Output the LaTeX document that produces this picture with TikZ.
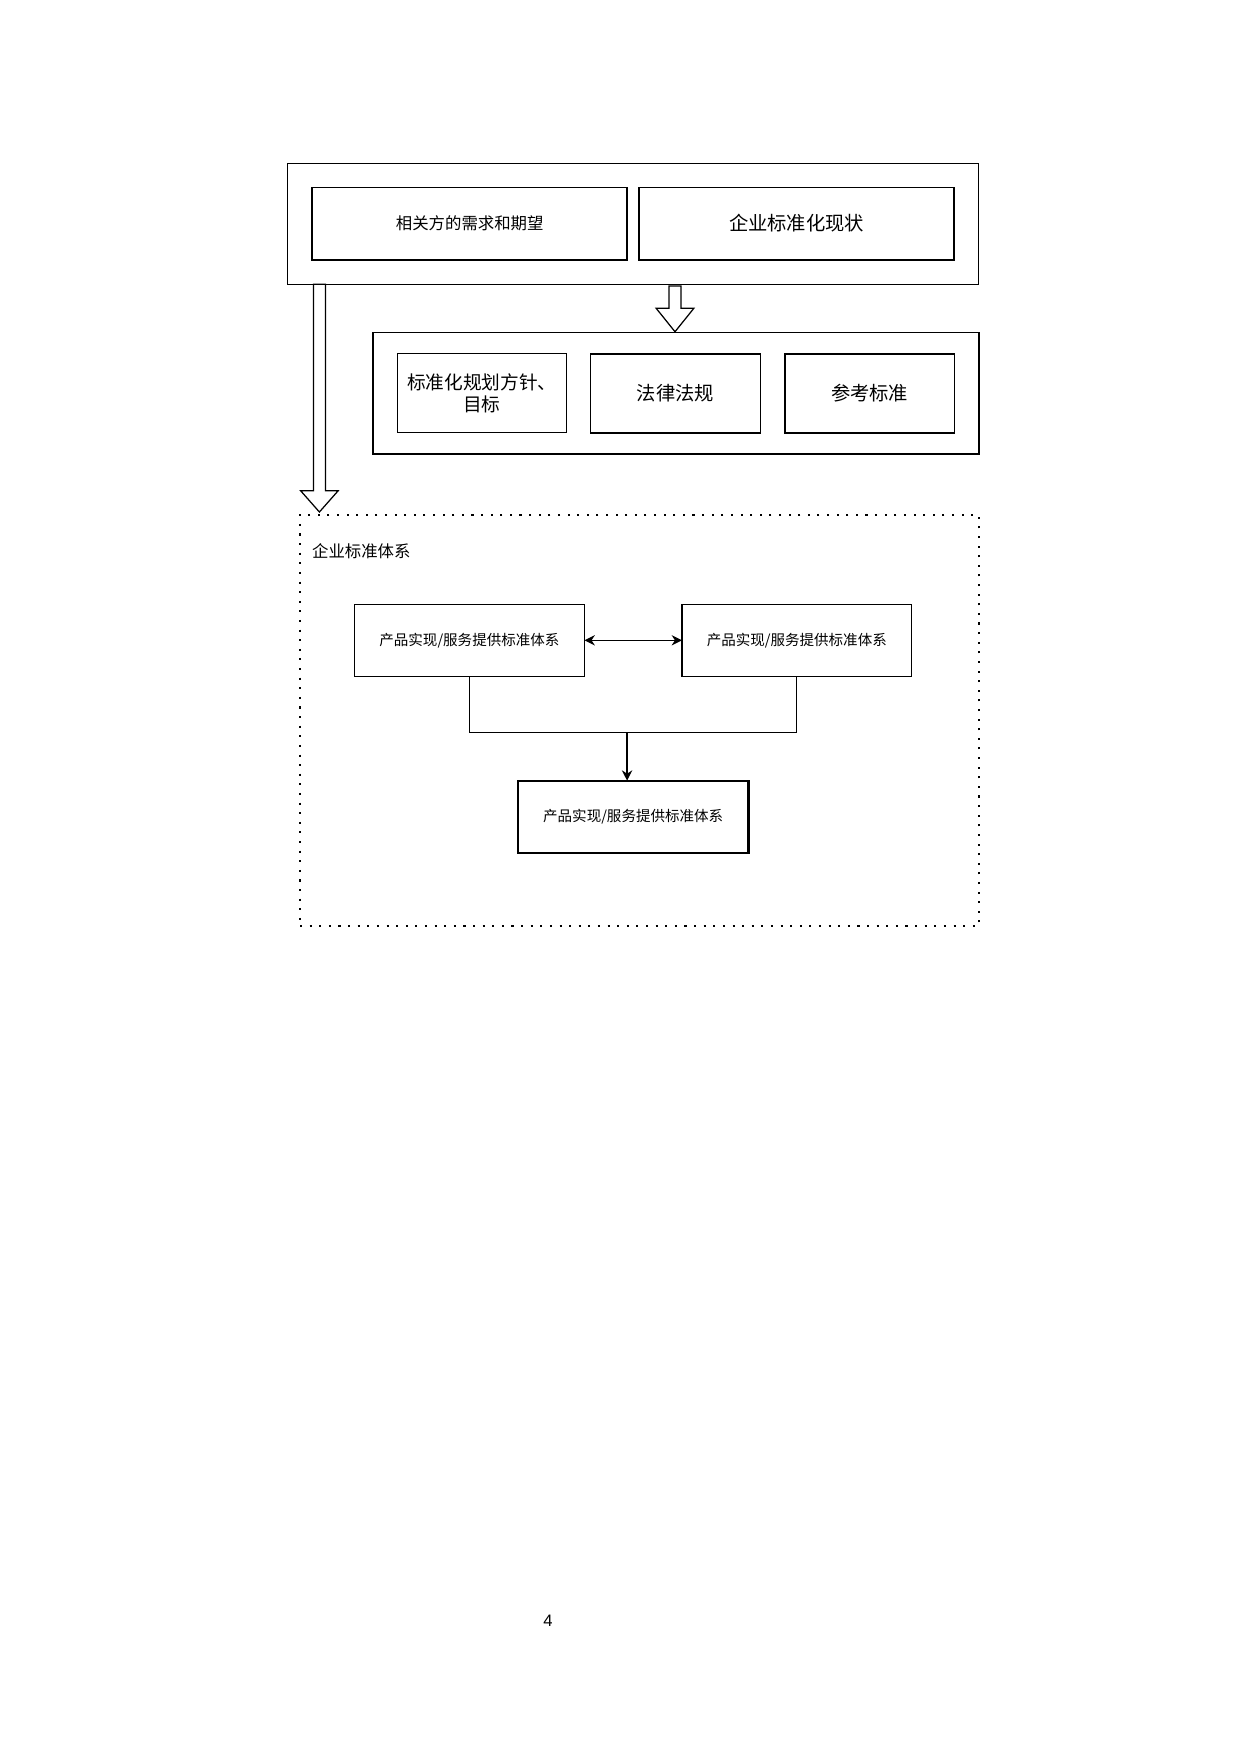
\documentclass[tikz,border=0pt]{standalone}
\usepackage{fontspec}
\setmainfont{Liberation Sans}
\newfontfamily\cjk{Noto Sans CJK SC}
\usetikzlibrary{calc,arrows.meta}
\begin{document}
\begin{tikzpicture}[x=0.4818pt,y=-0.4818pt,
  sz/.style 2 args={minimum width={#1*0.4818pt},minimum height={#2*0.4818pt}},
  frame/.style={draw,line width=0.6pt,inner sep=0pt,outer sep=0pt},
  topbox/.style={draw,line width=0.9pt,inner sep=0pt,outer sep=0pt,font=\cjk\fontsize{9.3pt}{10.4pt}\selectfont,align=center},
  smallbox/.style={draw,line width=0.6pt,inner sep=0pt,outer sep=0pt,font=\cjk\fontsize{7pt}{9pt}\selectfont},
  hollow/.style={draw,fill=white,line width=0.6pt,line join=miter},
  dotframe/.style={draw,line width=1.1pt,dash pattern=on 1pt off 3.63pt,inner sep=0pt,outer sep=0pt},
  conn/.style={draw,line width=0.6pt}
]
\useasboundingbox (0,0) rectangle (1240,1754);
% top group
\node[frame,sz={691.4}{121}] (outer1) at (633,223.8) {};
\node[topbox,sz={315.3}{72.2},font=\cjk\fontsize{7.9pt}{9pt}\selectfont] (a1) at (469.7,223.6) {相关方的需求和期望};
\node[topbox,sz={315.5}{72.2}] (a2) at (796.6,223.6) {企业标准化现状};
% second group
\node[frame,line width=0.8pt,sz={605.9}{121.5}] (outer2) at (675.8,393.3) {};
\node[topbox,line width=0.6pt,sz={169.5}{79},font=\cjk\fontsize{9pt}{10.4pt}\selectfont] (b1) at (481.9,393.3) {标准化规划方针、\\目标};
\node[topbox,line width=0.7pt,sz={170}{79}] (b2) at (675.5,393.3) {法律法规};
\node[topbox,line width=0.7pt,sz={169.5}{79}] (b3) at (869.6,393.3) {参考标准};
% enterprise standard system
\node[dotframe,sz={678.7}{411.3}] (sys) at (639.4,720.4) {};
\node[anchor=west,inner sep=0pt,font=\cjk\fontsize{7.9pt}{9pt}\selectfont] (syslabel) at (311.7,550.7) {企业标准体系};
\node[smallbox,sz={230.2}{72}] (A) at (469.4,640.3) {产品实现/服务提供标准体系};
\node[smallbox,sz={229.6}{72}] (B) at (796.8,640.3) {产品实现/服务提供标准体系};
\node[smallbox,line width=1.1pt,sz={230.6}{72.6}] (C) at (633.2,817) {产品实现/服务提供标准体系};
% hollow arrows
\coordinate (t1) at ($(outer2.north)+(-0.8,-0.8)$);
\path[hollow] ($(t1)+(-6,-45.7)$) -- ($(t1)+(6,-45.7)$) -- ($(t1)+(6,-23.4)$) -- ($(t1)+(18.8,-23.4)$)
  -- (t1) -- ($(t1)+(-18.8,-23.4)$) -- ($(t1)+(-6,-23.4)$) -- cycle;
\coordinate (t2) at (319.4,512);
\path[hollow] ($(t2)+(-6,-227.7)$) -- ($(t2)+(6,-227.7)$) -- ($(t2)+(6,-21.3)$) -- ($(t2)+(18.8,-21.3)$)
  -- (t2) -- ($(t2)+(-18.8,-21.3)$) -- ($(t2)+(-6,-21.3)$) -- cycle;
% connectors
\draw[conn,{Stealth[length=5pt,width=5pt]}-{Stealth[length=5pt,width=5pt]}] (A.east) -- (B.west);
\coordinate (j) at (627.1,732.3);
\draw[conn] (A.south) |- (j) -| (B.south);
\draw[conn,-{Stealth[length=5pt,width=5pt]}] (j) -- (j |- C.north);
% page number
\node[font=\fontsize{8pt}{10pt}\selectfont,inner sep=0pt] (pg) at (548,1621) {4};
\end{tikzpicture}
\end{document}
